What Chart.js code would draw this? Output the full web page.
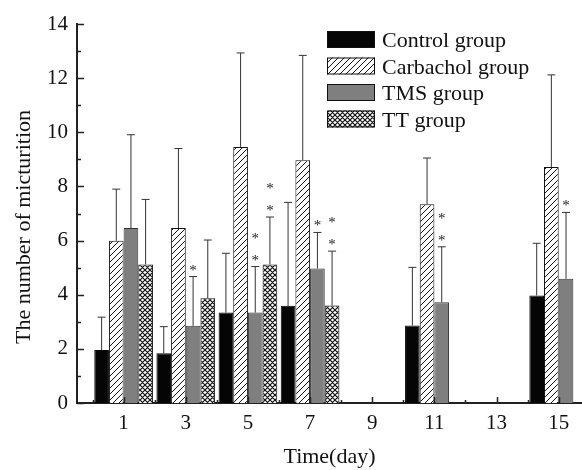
<!DOCTYPE html>
<html>
<head>
<meta charset="utf-8">
<script src="https://cdn.jsdelivr.net/npm/chart.js@4.4.1/dist/chart.umd.min.js"></script>
<style>
  body { margin: 0; background: #fff; }
  #wrap { width: 582px; height: 470px; }
</style>
</head>
<body>
<div id="wrap"><canvas id="myChart" width="582" height="470"></canvas></div>
<script>
// values (mean and SD, upper error bar only)
var days = [1, 3, 5, 7, 11, 15];
var xTicks = [1, 3, 5, 7, 9, 11, 13, 15];
var seriesNames = ['Control group', 'Carbachol group', 'TMS group', 'TT group'];
var controlMean = [1.96, 1.84, 3.34, 3.59, 2.86, 3.97];
var controlSD = [1.21, 0.98, 2.19, 3.82, 2.15, 1.93];
var carbMean = [5.99, 6.46, 9.46, 8.97, 7.34, 8.72];
var carbSD = [1.91, 2.94, 3.47, 3.87, 1.71, 3.40];
var tmsMean = [6.46, 2.85, 3.34, 4.97, 3.72, 4.59];
var tmsSD = [3.45, 1.82, 1.70, 1.33, 2.05, 2.45];
var ttMean = [5.12, 3.87, 5.12, 3.60, null, null];
var ttSD = [2.40, 2.15, 1.75, 2.01, null, null];
var tmsStars = [0, 1, 2, 1, 2, 1];
var ttStars = [0, 0, 2, 2, 0, 0];

var canvas = document.getElementById('myChart');
var ctx = canvas.getContext('2d');
var serif = '"Liberation Serif", "Times New Roman", serif';

function hatch(cross) {
    var s = cross ? 5 : 6;
    var c = document.createElement('canvas');
    c.width = s; c.height = s;
    var g = c.getContext('2d');
    g.fillStyle = '#fff';
    g.fillRect(0, 0, s, s);
    g.strokeStyle = '#111';
    g.lineWidth = cross ? 1.2 : 1;
    g.beginPath();
    g.moveTo(-1, s + 1); g.lineTo(s + 1, -1);
    g.moveTo(-1, 1); g.lineTo(1, -1);
    g.moveTo(s - 1, s + 1); g.lineTo(s + 1, s - 1);
    if (cross) {
        g.moveTo(-1, -1); g.lineTo(s + 1, s + 1);
        g.moveTo(s - 1, -1); g.lineTo(s + 1, 1);
        g.moveTo(-1, s - 1); g.lineTo(1, s + 1);
    }
    g.stroke();
    return ctx.createPattern(c, 'repeat');
}

function points(mean) {
    return days.map(function (d, i) { return { x: d, y: mean[i] }; });
}

var extras = {
    id: 'extras',
    afterDatasetsDraw: function (chart) {
        var c = chart.ctx, xs = chart.scales.x, ys = chart.scales.y, area = chart.chartArea;
        c.save();
        chart.data.datasets.forEach(function (ds, di) {
            var meta = chart.getDatasetMeta(di);
            meta.data.forEach(function (bar, i) {
                var m = ds.data[i].y;
                if (m == null) return;
                var top = ys.getPixelForValue(m + ds.sd[i]);
                c.strokeStyle = '#333';
                c.lineWidth = 1;
                c.beginPath();
                c.moveTo(bar.x, bar.y);
                c.lineTo(bar.x, top);
                c.moveTo(bar.x - 4, top);
                c.lineTo(bar.x + 4, top);
                c.stroke();
                var n = ds.stars ? ds.stars[i] : 0;
                c.fillStyle = '#222';
                c.font = '15px ' + serif;
                c.textAlign = 'center';
                c.textBaseline = 'alphabetic';
                for (var k = 0; k < n; k++) {
                    c.fillText('*', bar.x, top - 10 - k * 22 + 8);
                }
            });
        });
        // inward tick marks
        c.strokeStyle = '#222';
        c.lineWidth = 1.5;
        c.beginPath();
        for (var d = 0; d <= 15; d++) {
            var px = Math.round(xs.getPixelForValue(d)) + 0.5;
            var len = d % 2 ? 6 : 3;
            c.moveTo(px, area.bottom);
            c.lineTo(px, area.bottom - len);
        }
        for (var v = 0; v <= 14; v++) {
            var py = Math.round(ys.getPixelForValue(v)) + 0.5;
            var l2 = v % 2 ? 4 : 7;
            c.moveTo(area.left, py);
            c.lineTo(area.left + l2, py);
        }
        c.stroke();
        c.restore();
    },
    afterDraw: function (chart) {
        var c = chart.ctx;
        c.save();
        // legend
        chart.data.datasets.forEach(function (ds, i) {
            var top = 31 + i * 26.5;
            c.fillStyle = ds.backgroundColor;
            c.fillRect(327, top, 48, 17);
            c.strokeStyle = '#111';
            c.lineWidth = 1;
            c.strokeRect(327.5, top + 0.5, 47, 16);
            c.fillStyle = '#111';
            c.font = '22px ' + serif;
            c.textAlign = 'left';
            c.textBaseline = 'alphabetic';
            c.fillText(ds.label, 382, top + 16);
        });
        // y axis title
        c.translate(24, 227);
        c.rotate(-Math.PI / 2);
        c.font = '22px ' + serif;
        c.textAlign = 'center';
        c.textBaseline = 'middle';
        c.fillStyle = '#111';
        c.fillText('The number of micturition', 0, 0);
        c.restore();
    }
};

new Chart(ctx, {
    type: 'bar',
    data: {
        datasets: [{
            label: seriesNames[0],
            data: points(controlMean),
            sd: controlSD,
            backgroundColor: '#050505',
            borderColor: '#050505',
            borderWidth: 1
        }, {
            label: seriesNames[1],
            data: points(carbMean),
            sd: carbSD,
            backgroundColor: hatch(false),
            borderColor: '#111',
            borderWidth: 1
        }, {
            label: seriesNames[2],
            data: points(tmsMean),
            sd: tmsSD,
            stars: tmsStars,
            backgroundColor: '#7f7f7f',
            borderColor: '#333',
            borderWidth: 1
        }, {
            label: seriesNames[3],
            data: points(ttMean),
            sd: ttSD,
            stars: ttStars,
            backgroundColor: hatch(true),
            borderColor: '#111',
            borderWidth: 1
        }]
    },
    options: {
        responsive: false,
        animation: false,
        barPercentage: 1,
        categoryPercentage: 0.944,
        layout: { padding: { top: 24, right: 0, left: 0, bottom: 0 } },
        plugins: { legend: { display: false }, tooltip: { enabled: false } },
        scales: {
            x: {
                type: 'linear',
                offset: false,
                min: -0.5,
                max: 15.75,
                afterBuildTicks: function (scale) {
                    scale.ticks = xTicks.map(function (v) { return { value: v }; });
                },
                afterFit: function (scale) { scale.height = 67; },
                grid: { display: false, drawTicks: false },
                border: { display: true, color: '#222', width: 2 },
                ticks: { color: '#111', padding: 8, font: { family: serif, size: 21 } },
                title: {
                    display: true,
                    text: 'Time(day)',
                    color: '#111',
                    padding: { top: 0, bottom: 0 },
                    font: { family: serif, size: 22 }
                }
            },
            y: {
                min: 0,
                max: 14,
                afterFit: function (scale) { scale.width = 77; },
                grid: { display: false, drawTicks: false },
                border: { display: true, color: '#222', width: 2 },
                ticks: { stepSize: 2, color: '#111', padding: 9, font: { family: serif, size: 21 } }
            }
        }
    },
    plugins: [extras]
});
</script>
</body>
</html>
